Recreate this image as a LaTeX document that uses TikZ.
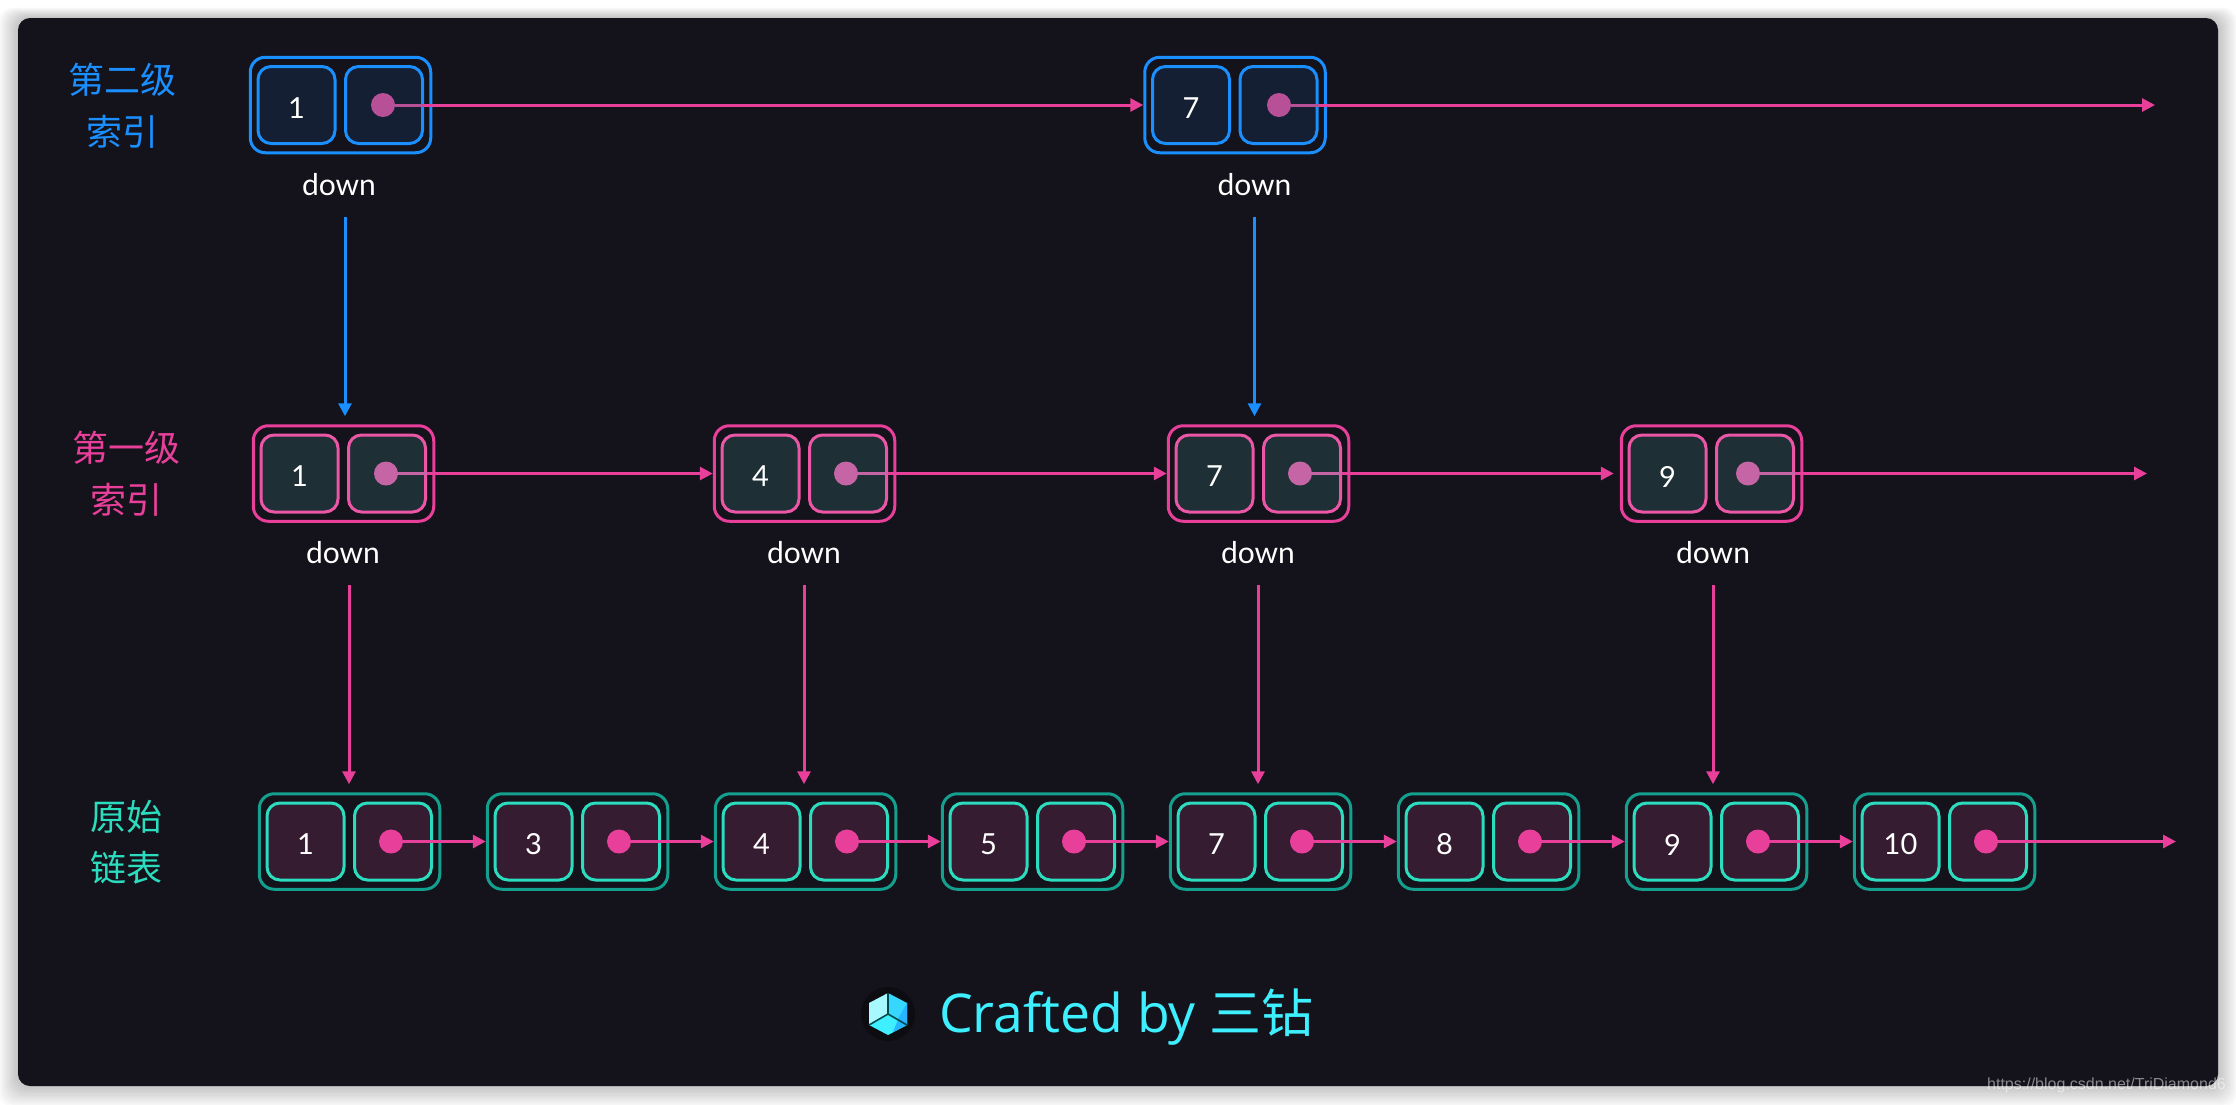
\documentclass[tikz,border=0pt]{standalone}
\usepackage{fontspec}
\usetikzlibrary{arrows.meta}
\setmainfont{Lato}
\newfontfamily\cjkf{Noto Sans CJK SC}
\newfontfamily\craftf{Open Sans}
\newfontfamily\markf{Liberation Sans}
\definecolor{card}{HTML}{14121A}
\definecolor{cblue}{HTML}{1A8FFF}
\definecolor{cpink}{HTML}{E8409A}
\definecolor{cteal}{HTML}{14A08F}
\definecolor{cmint}{HTML}{2BDDBE}
\definecolor{ccyan}{HTML}{3EEFFF}
\definecolor{cinnerone}{HTML}{1E3035}
\definecolor{cinnerzero}{HTML}{351C30}
\definecolor{cinnertwo}{HTML}{141F33}
\definecolor{cdotone}{HTML}{C565A5}
\definecolor{cdottwo}{HTML}{B85098}
\tikzset{
  x=1pt,y=-1pt,
  outerbox/.style={draw,line width=3pt,rounded corners=15pt,minimum width=180.5pt,minimum height=95.5pt,inner sep=0pt},
  innerbox/.style={draw,line width=3pt,rounded corners=13pt,minimum width=77pt,minimum height=77pt,inner sep=0pt},
  dotmark/.style={circle,minimum size=24pt,inner sep=0pt,outer sep=0pt},
  valtext/.style={text=white,font=\fontsize{29}{30}\selectfont,inner sep=0pt},
  downtext/.style={text=white,font=\fontsize{30}{32}\selectfont,inner sep=0pt,minimum height=32pt},
  lvltext/.style={font=\cjkf\fontsize{36}{40}\selectfont,inner sep=0pt},
  o2/.style={outerbox,draw=cblue},
  i2/.style={innerbox,draw=cblue,fill=cinnertwo},
  d2/.style={dotmark,fill=cdottwo},
  o1/.style={outerbox,draw=cpink},
  i1/.style={innerbox,draw=cpink!88!white,fill=cinnerone},
  d1/.style={dotmark,fill=cdotone},
  o0/.style={outerbox,draw=cteal},
  i0/.style={innerbox,draw=cmint,fill=cinnerzero},
  d0/.style={dotmark,fill=cpink},
  link/.style={draw=cpink,line width=3pt,-{Triangle[length=13pt,width=13pt]}},
  stub/.style={line width=3pt},
  droplink/.style={line width=3pt,-{Triangle[length=13pt,width=13pt]},shorten <=16pt,shorten >=8pt},
}
% name, left x, centre y, value, level, dot offset
\newcommand{\lpair}[6]{%
  \node[o#5] (#1) at (#2+91.5,#3) {};
  \node[i#5] (#1a) at (#2+47.5,#3) {};
  \node[i#5] (#1b) at (#2+135,#3) {};
  \node[valtext] (#1v) at (#2+47.5,#3+3) {#4};
  \node[d#5] (#1d) at (#2+#6,#3) {};
}
\begin{document}
\begin{tikzpicture}
\useasboundingbox (0,0) rectangle (2236,1104);
\fill[white] (0,0) rectangle (2236,1104);
% soft shadow
\foreach \s in {1,3,...,19}{
  \fill[black,opacity=0.024,rounded corners=14pt] (18-\s,18-\s*0.55) rectangle (2218+\s,1086+\s*1.1);
}
\fill[card,rounded corners=12pt] (18,18) rectangle (2218,1086);

% level labels
\node[lvltext,text=cblue] (l2a) at (122,80) {第二级};
\node[lvltext,text=cblue] (l2b) at (122,132) {索引};
\node[lvltext,text=cpink] (l1a) at (126,448) {第一级};
\node[lvltext,text=cpink] (l1b) at (126,500) {索引};
\node[lvltext,text=cmint] (l0a) at (126,817) {原始};
\node[lvltext,text=cmint] (l0b) at (126,868) {链表};

% level 2
\lpair{ba}{249}{105}{1}{2}{134}
\lpair{bb}{1143.5}{105}{7}{2}{135.5}
% level 1
\lpair{pa}{252}{473.5}{1}{1}{134}
\lpair{pb}{713}{473.5}{4}{1}{133}
\lpair{pc}{1167}{473.5}{7}{1}{133}
\lpair{pd}{1620}{473.5}{9}{1}{128}
% level 0
\lpair{ta}{258}{841.5}{1}{0}{133}
\lpair{tb}{486}{841.5}{3}{0}{133}
\lpair{tc}{714}{841.5}{4}{0}{133}
\lpair{td}{941}{841.5}{5}{0}{133}
\lpair{te}{1169}{841.5}{7}{0}{133}
\lpair{tf}{1397}{841.5}{8}{0}{133}
\lpair{tg}{1625}{841.5}{9}{0}{133}
\lpair{th}{1853}{841.5}{10}{0}{133}

% down labels
\node[downtext] (dba) at (339,185) {down};
\node[downtext] (dbb) at (1254.5,185) {down};
\node[downtext] (dpa) at (343,553) {down};
\node[downtext] (dpb) at (804,553) {down};
\node[downtext] (dpc) at (1258,553) {down};
\node[downtext] (dpd) at (1713,553) {down};

% horizontal links
\coordinate (endb) at (2155,105);
\coordinate (endp) at (2147,473.5);
\coordinate (endt) at (2176,841.5);
\draw[link] (bad) -- (bb);
\draw[link] (bbd) -- (endb);
\draw[link] (pad) -- (pb);
\draw[link] (pbd) -- (pc);
\draw[link,shorten >=6pt] (pcd) -- (pd);
\draw[link] (pdd) -- (endp);
\draw[link] (tad) -- (tb);
\draw[link] (tbd) -- (tc);
\draw[link] (tcd) -- (td);
\draw[link] (tdd) -- (te);
\draw[link] (ted) -- (tf);
\draw[link] (tfd) -- (tg);
\draw[link] (tgd) -- (th);
\draw[link] (thd) -- (endt);

% the links are muted where they cross the translucent cells of the index levels
\draw[stub,draw=cdottwo] (bad) -- (bad -| bab.east);
\draw[stub,draw=cdottwo] (bbd) -- (bbd -| bbb.east);
\draw[stub,draw=cdotone] (pad) -- (pad -| pab.east);
\draw[stub,draw=cdotone] (pbd) -- (pbd -| pbb.east);
\draw[stub,draw=cdotone] (pcd) -- (pcd -| pcb.east);
\draw[stub,draw=cdotone] (pdd) -- (pdd -| pdb.east);

% vertical links
\draw[droplink,draw=cblue] ([xshift=6pt]dba.south) -- ([xshift=6pt]dba.south |- pa.north);
\draw[droplink,draw=cblue] (dbb.south) -- (dbb.south |- pc.north);
\draw[droplink,draw=cpink] ([xshift=6pt]dpa.south) -- ([xshift=6pt]dpa.south |- ta.north);
\draw[droplink,draw=cpink] (dpb.south) -- (dpb.south |- tc.north);
\draw[droplink,draw=cpink] (dpc.south) -- (dpc.south |- te.north);
\draw[droplink,draw=cpink] (dpd.south) -- (dpd.south |- tg.north);

% logo
\fill[black!35!card] (888,1014) circle (27);
\fill[ccyan!45!white] (888,993) -- (869,1003) -- (869,1025) -- (888,1014) -- cycle;
\fill[ccyan!75!cblue] (888,993) -- (907,1003) -- (907,1025) -- (888,1014) -- cycle;
\fill[ccyan] (869,1025) -- (888,1035) -- (907,1025) -- (888,1014) -- cycle;
\fill[cblue!60!ccyan] (907,1003) -- (907,1025) -- (893,1032) -- (899,1017) -- cycle;
\draw[teal!60!black,line width=1.6pt] (888,993) -- (888,1014) (869,1025) -- (888,1014) -- (907,1025);

% credit
\node[text=ccyan,anchor=west,inner sep=0pt,font=\craftf\fontsize{53.5}{56}\selectfont] (credit) at (939,1017) {Crafted by {\cjkf\fontsize{52}{56}\selectfont 三钻}};

% watermark
\node[text=white,opacity=0.5,anchor=east,inner sep=0pt,font=\markf\fontsize{16}{20}\selectfont] (mark) at (2226,1085) {https://blog.csdn.net/TriDiamond6};
\end{tikzpicture}
\end{document}
